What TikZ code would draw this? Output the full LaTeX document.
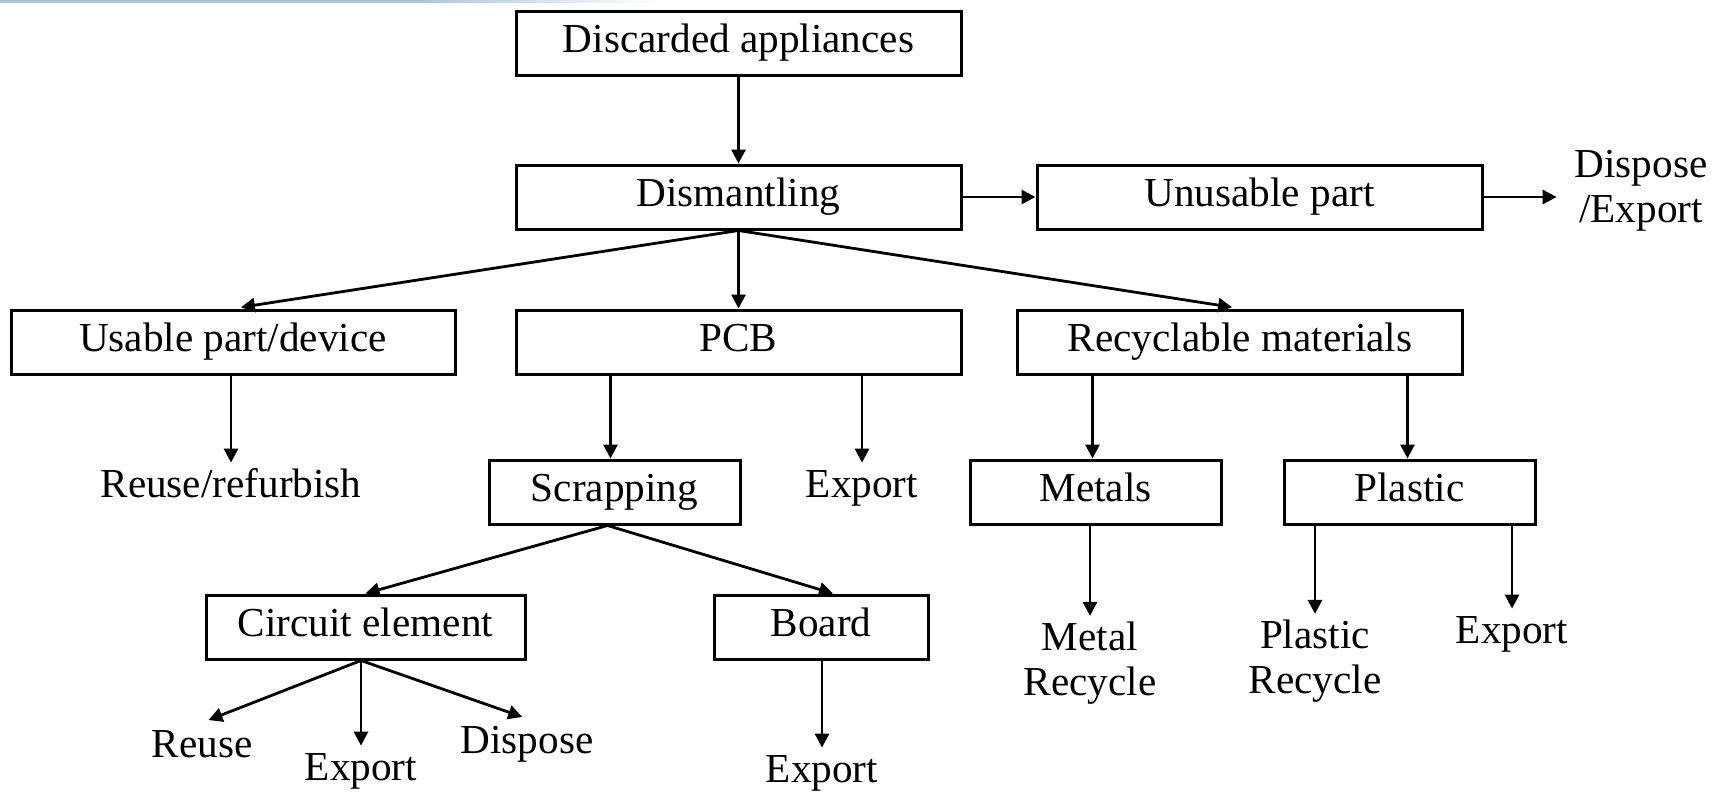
\documentclass[tikz,border=0pt]{standalone}
\usepackage{fontspec}
\setmainfont{Liberation Serif}
\usetikzlibrary{arrows.meta}
\definecolor{stripblue}{RGB}{172,196,226}

\begin{document}
\begin{tikzpicture}[x=0.5pt,y=-0.5pt,
  every node/.style={font=\fontsize{20.6pt}{22.5pt}\selectfont},
  box/.style={draw, line width=1.5pt, rectangle, minimum width=#1,
    minimum height=32pt, inner sep=0pt, text height=14pt, text depth=5pt,
    anchor=center},
  lbl/.style={inner xsep=3pt, inner ysep=3pt, text height=14pt,
    text depth=5pt, anchor=base},
  lbltwo/.style={align=center, inner xsep=3pt, inner ysep=3pt, anchor=center},
  arr/.style={-{Triangle[length=7pt,width=7pt]}, line width=1.4pt}]

\useasboundingbox (0,0) rectangle (1727,792);

% thin tinted strip along the upper left edge
\fill[stripblue] (0,0) rectangle (420,3);
\shade[left color=stripblue, right color=white] (420,0) rectangle (660,3);

% boxes
\node[box=222.5pt] (disc)    at (738.5,44)  {Discarded appliances};
\node[box=222.5pt] (dism)    at (738.5,197) {Dismantling};
\node[box=222.5pt] (unus)    at (1259.5,197) {Unusable part};
\node[box=222pt]   (usable)  at (233,342)   {Usable part/device};
\node[box=222.5pt] (pcb)     at (738.5,342) {PCB};
\node[box=222.5pt] (recy)    at (1240,342)  {Recyclable materials};
\node[box=125.5pt] (scrap)   at (614.5,492) {Scrapping};
\node[box=125.5pt] (metals)  at (1095.5,492) {Metals};
\node[box=125.5pt] (plastic) at (1409.5,492) {Plastic};
\node[box=159.5pt] (circ)    at (365.5,627) {Circuit element};
\node[box=107pt]   (board)   at (821,627)   {Board};

% outcome labels
\node[lbltwo] (dispexp)  at (1641,191)   {Dispose\\/Export};
\node[lbl]    (refurb)   at (231,497)    {Reuse/refurbish};
\node[lbl]    (pcbexp)   at (862,497)    {Export};
\node[lbltwo] (metrec)   at (1090,663.5) {Metal\\Recycle};
\node[lbltwo] (plarec)   at (1315,661.5) {Plastic\\Recycle};
\node[lbl]    (plaexp)   at (1512,643)   {Export};
\node[lbl]    (reuse)    at (202,757)    {Reuse};
\node[lbl]    (circexp)  at (361,780)    {Export};
\node[lbl]    (dispose)  at (527,753)    {Dispose};
\node[lbl]    (boardexp) at (822,782)    {Export};

% connectors
\draw[arr] (disc) -- (dism);
\draw[arr] (dism) -- (unus);
\draw[arr, shorten >=5.8pt] (unus) -- (unus -| dispexp.west);

\draw[arr, shorten >=4pt] (dism.south) -- (usable.north);
\draw[arr] (dism.south) -- (pcb.north);
\draw[arr, shorten >=4pt] (dism.south) -- (recy.north);

\draw[arr] (usable.south -| refurb) -- (refurb.north);
\draw[arr] ([xshift=-2pt]scrap.north |- pcb.south) -- ([xshift=-2pt]scrap.north);
\draw[arr] (pcb.south -| pcbexp) -- (pcbexp.north);
\draw[arr] ([xshift=-1.5pt]metals.north |- recy.south) -- ([xshift=-1.5pt]metals.north);
\draw[arr] ([xshift=-1pt]plastic.north |- recy.south) -- ([xshift=-1pt]plastic.north);

\draw[arr] ([xshift=-3.5pt]scrap.south) -- (circ.north);
\draw[arr] ([xshift=-3.5pt]scrap.south) -- ([xshift=6pt]board.north);

\draw[arr, shorten >=3.5pt] (circ.south -| circexp) -- (reuse.north);
\draw[arr] (circ.south -| circexp) -- (circexp.north);
\draw[arr, shorten >=2.5pt] (circ.south -| circexp) -- (dispose.north);
\draw[arr] (board.south -| boardexp) -- (boardexp.north);

\draw[arr] (metals.south -| metrec) -- (metrec.north);
\draw[arr] (plastic.south -| plarec) -- (plarec.north);
\draw[arr] (plastic.south -| plaexp) -- (plaexp.north);
\end{tikzpicture}
\end{document}
